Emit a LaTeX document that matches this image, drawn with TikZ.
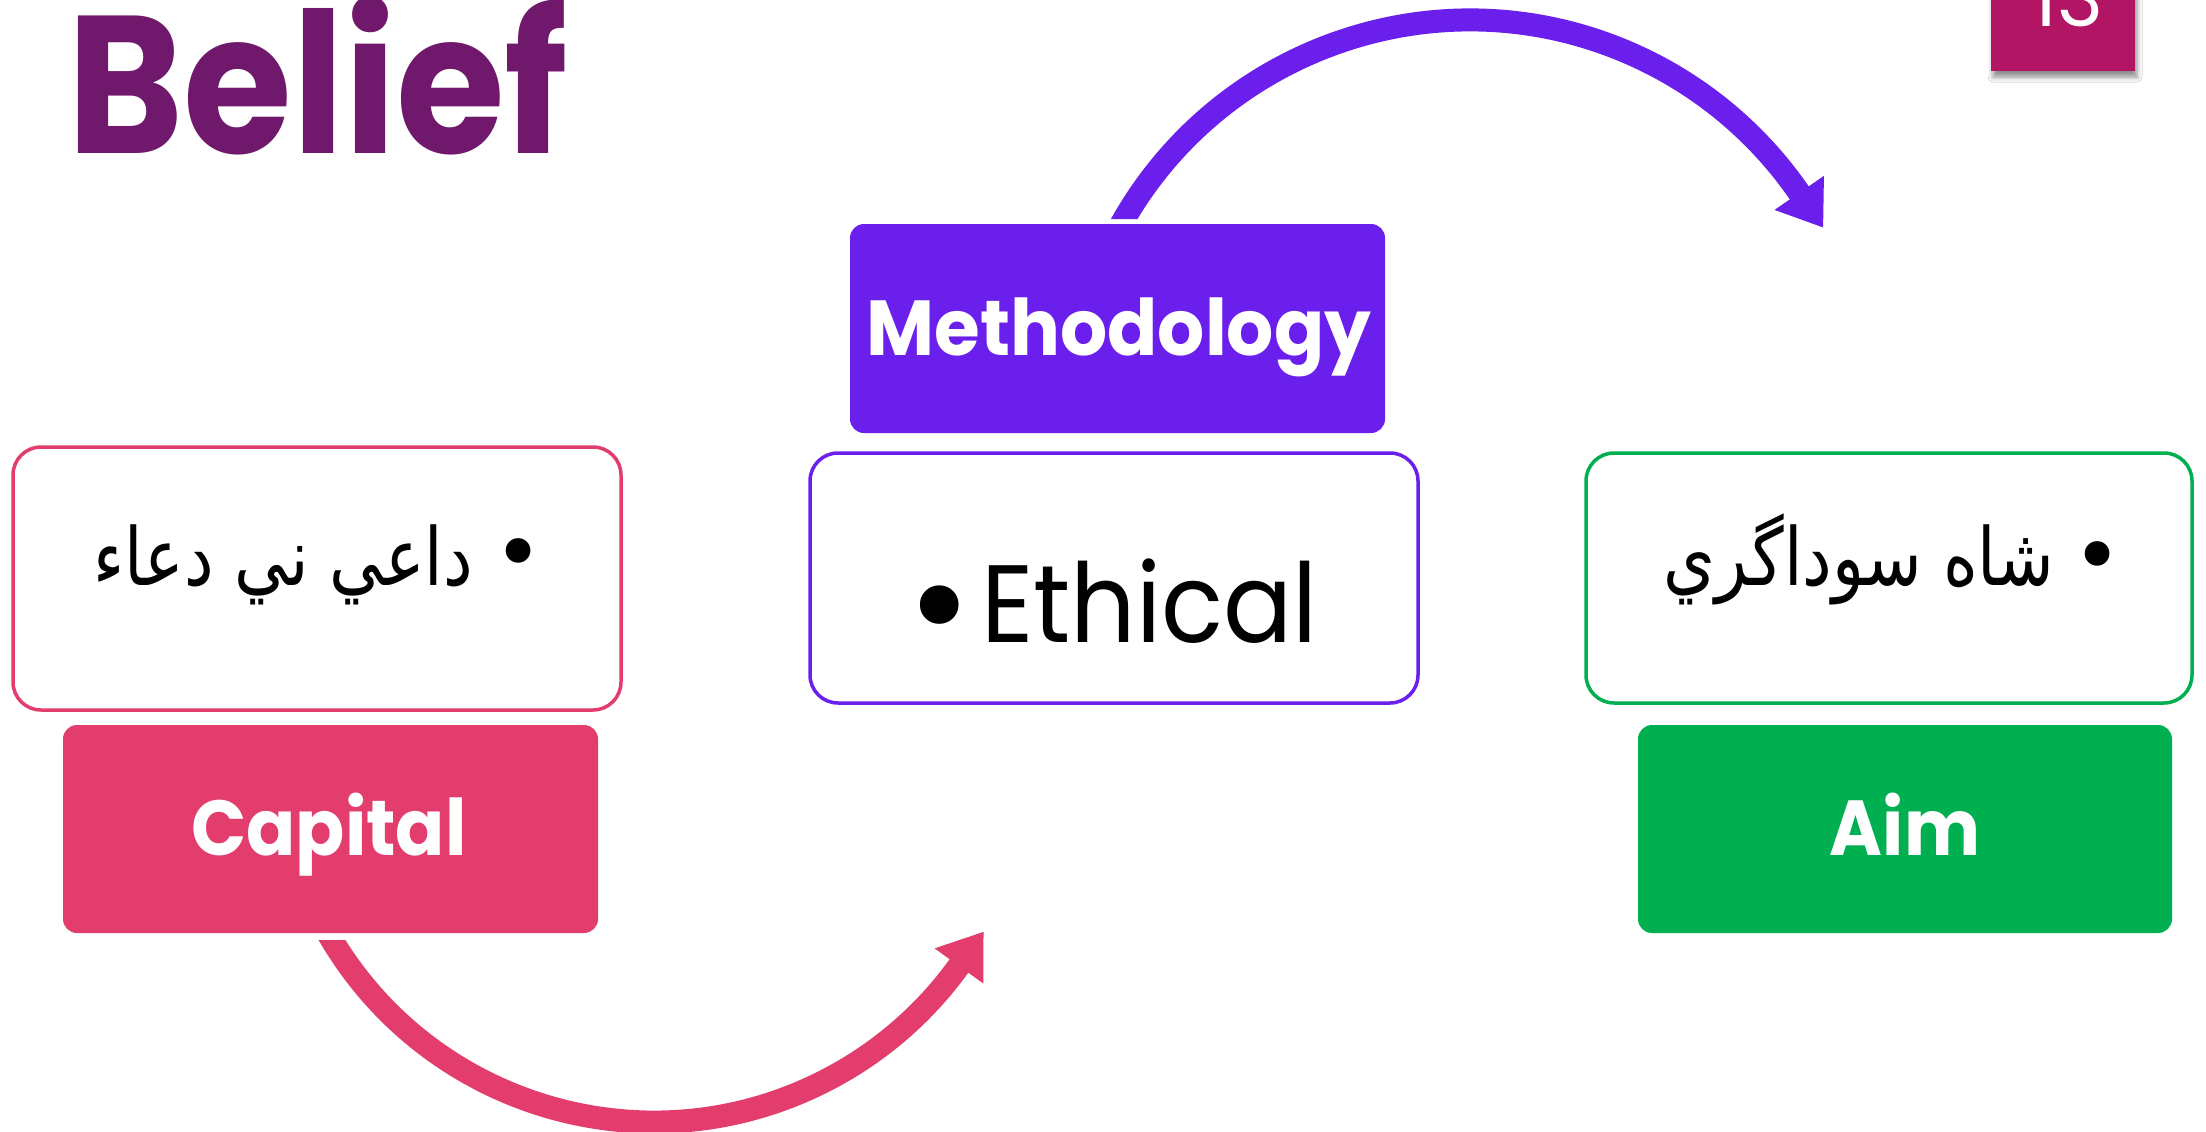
\documentclass[tikz,border=0pt]{standalone}
\usepackage{fontspec}
\setmainfont{Poppins}
\newfontfamily\arabicfont[Script=Arabic]{DejaVu Sans}
\newfontfamily\symfont{DejaVu Sans}
\TeXXeTstate=1
\usetikzlibrary{shadows.blur}

\definecolor{titlepurple}{HTML}{70186B}
\definecolor{violetc}{HTML}{6B1FEC}
\definecolor{pinkc}{HTML}{E33D6E}
\definecolor{greenc}{HTML}{00AF50}
\definecolor{badgec}{HTML}{B21564}

\begin{document}
\begin{tikzpicture}[x=1pt,y=-1pt,
  solidbox/.style={fill=#1, draw=none, rounded corners=14pt, inner sep=0pt},
  outlinebox/.style={draw=#1, fill=white, line width=3.5pt, rounded corners=28pt, inner sep=0pt},
  boxlabel/.style={text=white, font=\fontsize{78}{90}\selectfont\bfseries, inner sep=0pt, anchor=base},
  shaft/.style={draw=#1, line width=23pt},
  arabictext/.style={font=\fontsize{80}{100}\arabicfont, inner sep=0pt, anchor=base east},
  bulletmark/.style={font=\fontsize{85}{90}\symfont, inner sep=0pt}
]
\useasboundingbox[fill=white] (0,0) rectangle (2206,1132);

% title
\node[text=titlepurple, font=\fontsize{196}{200}\selectfont\bfseries, inner sep=0pt, anchor=base west] (title) at (67,153) {\scalebox{0.9}[1]{Belief}};

% slide number badge
\node[fill=badgec, minimum width=144pt, minimum height=110pt, inner sep=0pt,
  blur shadow={shadow xshift=2pt, shadow yshift=-6pt, shadow blur radius=5pt, shadow opacity=45}] (badge) at (2063,16) {};
\node[text=white, font=\fontsize{78}{80}\selectfont, inner sep=0pt, anchor=base] (num) at (2068,27) {13};

% boxes
\node[solidbox=violetc, minimum width=535pt, minimum height=209pt] (meth) at (1117.5,328.5) {};
\node[outlinebox=violetc, minimum width=608pt, minimum height=250pt] (eth) at (1114,578) {};
\node[outlinebox=pinkc, minimum width=608pt, minimum height=263pt] (capt) at (317,578.5) {};
\node[solidbox=pinkc, minimum width=535pt, minimum height=208pt] (cap) at (330.5,829) {};
\node[outlinebox=greenc, minimum width=606pt, minimum height=250pt] (aimt) at (1889,578) {};
\node[solidbox=greenc, minimum width=534pt, minimum height=208pt] (aim) at (1905,829) {};

% box labels
\node[boxlabel] (methl) at (1119,355) {\scalebox{0.95}[1]{Methodology}};
\node[boxlabel] (capl) at (329,855) {\scalebox{0.93}[1]{Capital}};
\node[boxlabel] (aiml) at (1905,855) {\scalebox{0.92}[1]{Aim}};

% bullet texts
\node[font=\fontsize{133}{140}\symfont, inner sep=0pt] (b1) at (940,620) {•};
\node[font=\fontsize{110}{120}\selectfont, inner sep=0pt, anchor=base west] (ethl) at (981,642) {\scalebox{0.93}[1]{Ethical}};

\node[bulletmark] (b2) at (519,561) {•};
\node[arabictext] (capar) at (473,585) {\scalebox{0.83}[1]{\beginR داعي ني دعاء\endR}};

\node[bulletmark] (b3) at (2098,564) {•};
\node[arabictext] (aimar) at (2054,585) {\scalebox{0.83}[1]{\beginR شاه سوداگري\endR}};

% curved connector from Methodology towards Aim
\coordinate (topc) at (1470,420);
\begin{scope}
  \clip (0,0) rectangle (2206,219) (1300,0) rectangle (2206,1132);
  \draw[shaft=violetc] (topc) ++(-156:400) arc[start angle=-156, end angle=-33.8, radius=400];
\end{scope}
\begin{scope}[shift={(topc)}, rotate=34.6]
  \fill[violetc] (370,0) coordinate (tw1) -- (430,0) coordinate (tw2) -- (400,42) coordinate (ttip) -- cycle;
\end{scope}

% curved connector from Capital towards Ethical
\coordinate (botc) at (654,746);
\begin{scope}
  \clip (0,940) rectangle (700,1132) (700,0) rectangle (2206,1132);
  \draw[shaft=pinkc] (botc) ++(152:376) arc[start angle=152, end angle=35, radius=376];
\end{scope}
\begin{scope}[shift={(botc)}, rotate=-35.8]
  \fill[pinkc] (346,0) coordinate (bw1) -- (406,0) coordinate (bw2) -- (376,-42) coordinate (btip) -- cycle;
\end{scope}
\end{tikzpicture}
\end{document}
